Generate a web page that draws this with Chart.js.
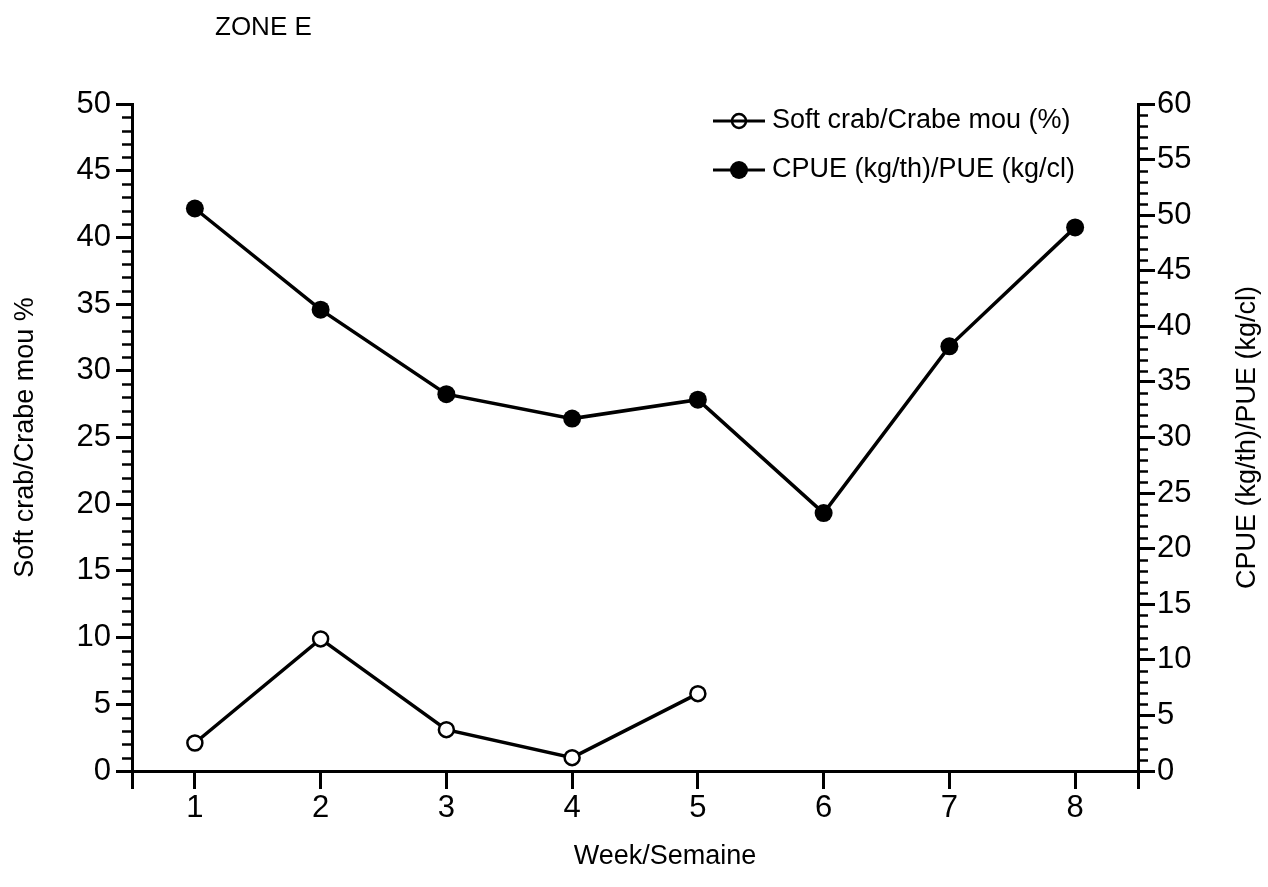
<!DOCTYPE html>
<html>
<head>
<meta charset="utf-8">
<title>ZONE E</title>
<script src="https://cdn.jsdelivr.net/npm/chart.js@4/dist/chart.umd.min.js"></script>
<style>
  html, body { margin: 0; padding: 0; background: #fff; }
  #chart { display: block; }
</style>
</head>
<body>
<canvas id="chart" width="1268" height="887"></canvas>
<script>
// Values
const weeks = [1, 2, 3, 4, 5, 6, 7, 8];
const softCrabPct = [2.1, 9.9, 3.1, 1.0, 5.8]; // weeks 1-5 only
const cpue = [50.6, 41.5, 33.9, 31.7, 33.4, 23.2, 38.2, 48.9];

const seriesLabels = ["Soft crab/Crabe mou (%)", "CPUE (kg/th)/PUE (kg/cl)"];
const leftTitle = "Soft crab/Crabe mou %";
const rightTitle = "CPUE (kg/th)/PUE (kg/cl)";
const xTitle = "Week/Semaine";
const zoneTitle = "ZONE E";

const FONT = "'Liberation Sans', Arial, Helvetica, sans-serif";
Chart.defaults.color = "#000";
Chart.defaults.font.family = FONT;

// minor ticks (every unit) on both value axes, outside the plot
const minorTicks = {
  id: "minorTicks",
  afterDraw(chart) {
    const ctx = chart.ctx;
    ctx.save();
    ctx.strokeStyle = "#000";
    ctx.lineWidth = 2.5;
    ["y", "y2"].forEach((id) => {
      const s = chart.scales[id];
      const edge = s.position === "left" ? s.right : s.left;
      const dir = s.position === "left" ? -1 : 1;
      for (let v = s.min; v <= s.max; v++) {
        if (v % 5 === 0) continue;
        const py = Math.round(s.getPixelForValue(v)) + 0.5;
        ctx.beginPath();
        ctx.moveTo(edge, py);
        ctx.lineTo(edge + dir * 10, py);
        ctx.stroke();
      }
    });
    ctx.restore();
  },
};

// legend, x and right axis titles (right one reads bottom to top), zone label
const extras = {
  id: "extras",
  afterDraw(chart) {
    const ctx = chart.ctx;
    const area = chart.chartArea;
    ctx.save();
    ctx.fillStyle = "#000";
    ctx.strokeStyle = "#000";
    ctx.textAlign = "left";
    ctx.textBaseline = "middle";

    ctx.font = "26px " + FONT;
    ctx.fillText(zoneTitle, 215, 28);

    const lx = area.right - 425;
    chart.data.datasets.forEach((ds, i) => {
      const ly = area.top + 17 + i * 49;
      ctx.lineWidth = 3;
      ctx.beginPath();
      ctx.moveTo(lx, ly);
      ctx.lineTo(lx + 52, ly);
      ctx.stroke();
      ctx.beginPath();
      ctx.arc(lx + 26, ly, i === 0 ? 7 : 9, 0, Math.PI * 2);
      if (i === 0) {
        ctx.lineWidth = 2.5;
        ctx.stroke();
      } else {
        ctx.fill();
      }
      ctx.font = "27px " + FONT;
      ctx.fillText(ds.label, lx + 59, ly);
    });

    ctx.textAlign = "center";
    ctx.font = "27px " + FONT;
    ctx.fillText(xTitle, 665, 857);

    ctx.translate(1248, (area.top + area.bottom) / 2);
    ctx.rotate(-Math.PI / 2);
    ctx.fillText(rightTitle, 0, 0);
    ctx.restore();
  },
};

new Chart(document.getElementById("chart"), {
  type: "line",
  data: {
    datasets: [
      {
        label: seriesLabels[0],
        data: softCrabPct.map((v, i) => ({ x: weeks[i], y: v })),
        yAxisID: "y",
        borderColor: "#000",
        borderWidth: 3.5,
        pointRadius: 7.5,
        pointBorderWidth: 2.5,
        pointBackgroundColor: "#fff",
        pointBorderColor: "#000",
      },
      {
        label: seriesLabels[1],
        data: cpue.map((v, i) => ({ x: weeks[i], y: v })),
        yAxisID: "y2",
        borderColor: "#000",
        borderWidth: 3.5,
        pointRadius: 9,
        pointBorderWidth: 0,
        pointBackgroundColor: "#000",
        pointBorderColor: "#000",
      },
    ],
  },
  options: {
    responsive: false,
    animation: false,
    clip: false,
    layout: { padding: { top: 104, left: 0, right: 0, bottom: 0 } },
    plugins: {
      legend: { display: false },
      tooltip: { enabled: false },
      title: { display: false },
    },
    scales: {
      x: {
        type: "linear",
        min: weeks[0] - 0.5,
        max: weeks[weeks.length - 1] + 0.5,
        afterBuildTicks: (s) => {
          s.ticks = [s.min, ...weeks, s.max].map((v) => ({ value: v }));
        },
        afterFit: (s) => { s.height = 116; },
        ticks: {
          font: { size: 31 },
          padding: 1,
          maxRotation: 0,
          callback: (v) => (Number.isInteger(v) ? v : ""),
        },
        grid: { drawOnChartArea: false, color: "#000", lineWidth: 3, tickLength: 18 },
        border: { color: "#000", width: 3 },
      },
      y: {
        position: "left",
        min: 0,
        max: 50,
        afterFit: (s) => { s.width = 132; },
        ticks: { stepSize: 5, font: { size: 31 }, padding: 5 },
        grid: { drawOnChartArea: false, color: "#000", lineWidth: 3, tickLength: 16 },
        border: { color: "#000", width: 3 },
        title: { display: true, text: leftTitle, font: { size: 27 }, padding: { top: 9, bottom: 0 } },
      },
      y2: {
        position: "right",
        min: 0,
        max: 60,
        afterFit: (s) => { s.width = 130; },
        ticks: { stepSize: 5, font: { size: 31 }, padding: 2 },
        grid: { drawOnChartArea: false, color: "#000", lineWidth: 3, tickLength: 17 },
        border: { color: "#000", width: 3 },
      },
    },
  },
  plugins: [minorTicks, extras],
});
</script>
</body>
</html>
